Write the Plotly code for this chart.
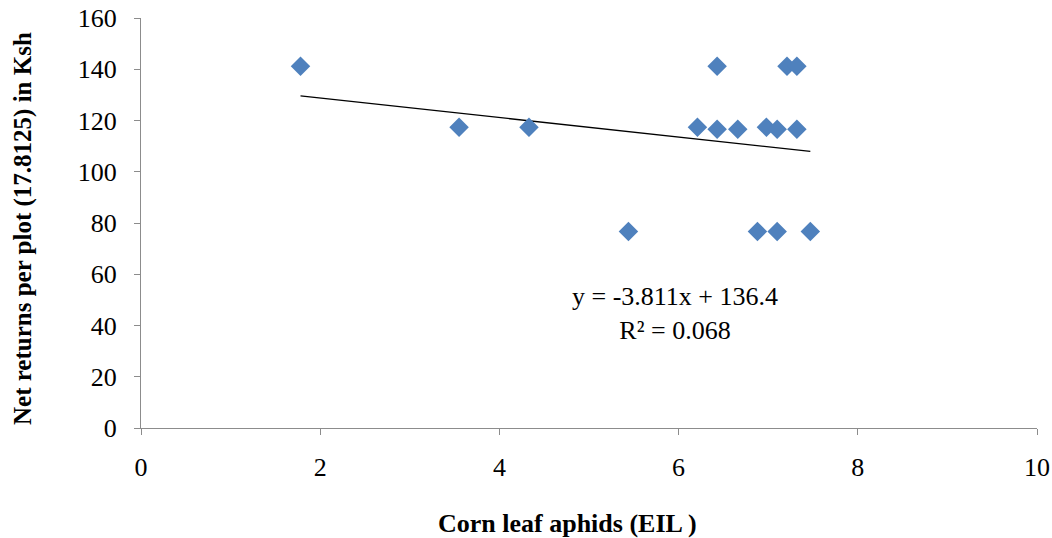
import plotly.graph_objects as go

# Data
aphids_eil = [1.78, 3.55, 4.33, 5.44, 6.21, 6.43, 6.43, 6.66, 6.88, 6.98, 7.10, 7.10, 7.21, 7.32, 7.32, 7.47]
net_returns = [141.2, 117.4, 117.4, 76.7, 117.4, 141.2, 116.6, 116.6, 76.7, 117.4, 116.6, 76.7, 141.2, 141.2, 116.6, 76.7]

# Trendline coefficients shown on the chart
slope = -3.811
intercept = 136.4
trend_x = [min(aphids_eil), max(aphids_eil)]
trend_y = [slope * x + intercept for x in trend_x]

x_ticks = [0, 2, 4, 6, 8, 10]
y_ticks = [0, 20, 40, 60, 80, 100, 120, 140, 160]

x_title = "Corn leaf aphids (EIL )"
y_title = "Net returns per plot (17.8125) in Ksh"
equation_text = "y = -3.811x + 136.4<br>R² = 0.068"

FONT = "Liberation Serif, Times New Roman, serif"

fig = go.Figure()
fig.add_trace(go.Scatter(
    x=trend_x, y=trend_y, mode="lines",
    line=dict(color="black", width=1.3), showlegend=False, hoverinfo="skip"))
fig.add_trace(go.Scatter(
    x=aphids_eil, y=net_returns, mode="markers",
    marker=dict(symbol="diamond", size=15, color="#4F81BD",
                line=dict(width=0)),
    showlegend=False))

fig.add_annotation(x=0.596, y=0.28, xref="paper", yref="paper",
                   xanchor="center", yanchor="middle",
                   text=equation_text, showarrow=False, align="center",
                   font=dict(family=FONT, size=26, color="black"))

# Axis titles
fig.add_annotation(x=(567 - 141) / 896, y=-(523 - 428) / 410, xref="paper", yref="paper",
                   xanchor="center", yanchor="middle",
                   text="<b>%s</b>" % x_title, showarrow=False,
                   font=dict(family=FONT, size=26, color="black"))
fig.add_annotation(x=-(141 - 23) / 896, y=(428 - 229) / 410, xref="paper", yref="paper",
                   xanchor="center", yanchor="middle",
                   text="<b>%s</b>" % y_title, showarrow=False, textangle=-90,
                   font=dict(family=FONT, size=25, color="black"))

fig.update_layout(
    width=1052, height=538,
    margin=dict(l=141, r=15, t=18, b=110),
    paper_bgcolor="white", plot_bgcolor="white",
    font=dict(family=FONT, size=26, color="black"),
    xaxis=dict(range=[0, 10], tickvals=x_ticks, showgrid=False, zeroline=False,
               showline=True, linecolor="#8c8c8c", linewidth=1,
               ticks="outside", ticklen=6, tickcolor="#8c8c8c",
               ticklabelstandoff=10, automargin=False),
    yaxis=dict(range=[0, 160], tickvals=y_ticks, showgrid=False, zeroline=False,
               showline=True, linecolor="#8c8c8c", linewidth=1,
               ticks="outside", ticklen=6, tickcolor="#8c8c8c",
               ticklabelstandoff=12, automargin=False),
)

fig.write_html("out.html")
